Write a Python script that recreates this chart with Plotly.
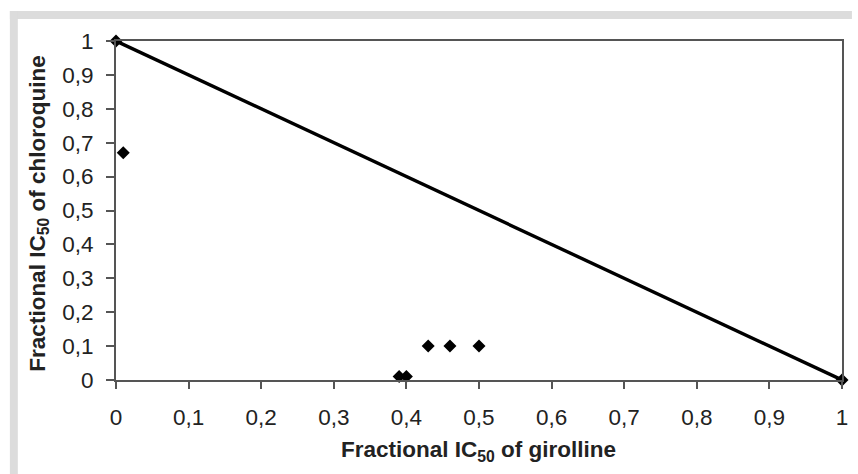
import plotly.graph_objects as go

# Data
line_x = [0, 1]
line_y = [1, 0]
pts_x = [0, 0.01, 0.39, 0.40, 0.43, 0.46, 0.50, 1]
pts_y = [1, 0.67, 0.01, 0.01, 0.10, 0.10, 0.10, 0]
tick_vals = [0, 0.1, 0.2, 0.3, 0.4, 0.5, 0.6, 0.7, 0.8, 0.9, 1]
x_title = "<b>Fractional IC<sub>50</sub> of girolline</b>"
y_title = "<b>Fractional IC<sub>50</sub> of chloroquine</b>"

W, H = 858, 474
L, R, T, B = 116, 10, 41, 94
pw, ph = W - L - R, H - T - B

def px(x):
    return (x - L) / pw

def py(y):
    return (H - B - y) / ph

fig = go.Figure()
fig.add_trace(go.Scatter(x=line_x, y=line_y, mode="lines",
                         line=dict(color="black", width=3.4), showlegend=False,
                         cliponaxis=False))
fig.add_trace(go.Scatter(x=pts_x, y=pts_y, mode="markers",
                         marker=dict(symbol="diamond", size=10, color="black"),
                         showlegend=False, cliponaxis=False))

font = "Liberation Sans, Arial, sans-serif"
fig.update_layout(
    width=W, height=H,
    margin=dict(l=L, r=R, t=T, b=B),
    paper_bgcolor="white", plot_bgcolor="white",
    separators=", ",
    font=dict(family=font, size=22, color="#222"),
    xaxis=dict(range=[0, 1], tickvals=tick_vals, showgrid=False, zeroline=False,
               showline=True, linecolor="#555", linewidth=2, mirror=True,
               ticks="outside", ticklen=7, tickcolor="#555", tickwidth=1.5,
               ticklabelstandoff=9,
               tickfont=dict(size=22.5, color="#222")),
    yaxis=dict(range=[0, 1], tickvals=tick_vals, showgrid=False, zeroline=False,
               showline=True, linecolor="#555", linewidth=2, mirror=True,
               ticks="outside", ticklen=8, tickcolor="#555", tickwidth=1.5,
               ticklabelstandoff=8,
               tickfont=dict(size=22.5, color="#222")),
    annotations=[
        dict(text=x_title, xref="paper", yref="paper", x=px(481), y=py(451),
             xanchor="center", yanchor="middle", showarrow=False,
             font=dict(size=22.5, color="#222")),
        dict(text=y_title, xref="paper", yref="paper", x=px(38), y=py(214),
             xanchor="center", yanchor="middle", showarrow=False, textangle=-90,
             font=dict(size=22.5, color="#222")),
    ],
    shapes=[
        dict(type="rect", xref="paper", yref="paper", layer="below",
             x0=px(9), x1=px(858), y0=py(11), y1=py(19),
             fillcolor="#dcdcdc", line=dict(width=0)),
        dict(type="rect", xref="paper", yref="paper", layer="below",
             x0=px(9), x1=px(17), y0=py(11), y1=py(474),
             fillcolor="#dcdcdc", line=dict(width=0)),
    ],
)

fig.write_html("out.html")
